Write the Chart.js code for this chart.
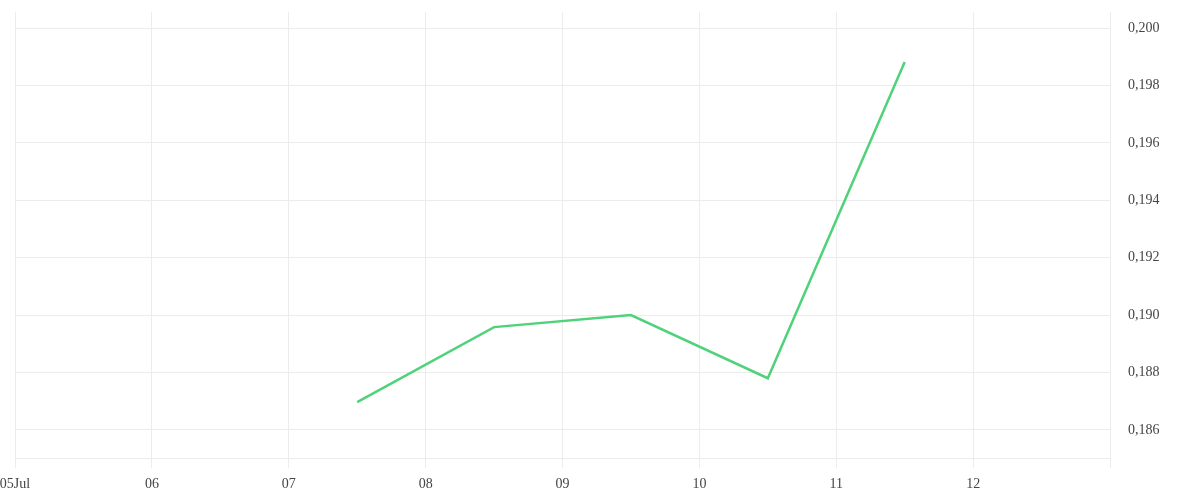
<!DOCTYPE html>
<html>
<head>
<meta charset="utf-8">
<script src="https://cdn.jsdelivr.net/npm/chart.js@4/dist/chart.umd.min.js"></script>
<style>
  html,body{margin:0;padding:0;background:#fff;}
  #wrap{width:1200px;height:500px;}
</style>
</head>
<body>
<div id="wrap"><canvas id="c"></canvas></div>
<script>
// day of July (12:00 = .5) and price values
const days = [7.5, 8.5, 9.5, 10.5, 11.5];
const values = [0.18697, 0.18958, 0.19000, 0.18780, 0.19882];
const yTicks = [0.186, 0.188, 0.190, 0.192, 0.194, 0.196, 0.198, 0.200];

const GRID = "#ececec";
const TXT = "#444";
const LINE = "#4fd27a";
const FONT = {family:"'Liberation Serif', 'DejaVu Serif', serif", size:14};

const pts = days.map((d,i)=>({x:d, y:values[i]}));

new Chart(document.getElementById("c"), {
  type: "line",
  data: {
    datasets: [{
      data: pts,
      borderColor: LINE,
      borderWidth: 2.5,
      pointRadius: 0,
      tension: 0,
      fill: false
    }]
  },
  options: {
    responsive: true,
    maintainAspectRatio: false,
    animation: false,
    layout: {padding: {left: 15, top: 12, right: 0, bottom: 0}},
    plugins: {legend: {display: false}, tooltip: {enabled: false}},
    scales: {
      x: {
        type: "linear",
        min: 5, max: 13,
        grid: {color: GRID, tickLength: 10, tickColor: GRID},
        border: {color: GRID},
        ticks: {
          stepSize: 1, color: TXT, font: FONT, padding: 8, maxRotation: 0,
          callback: (v) => v === 13 ? "" : (v === 5 ? "05Jul" : String(v).padStart(2, "0"))
        },
        afterFit: (s) => { s.height = 42; s.paddingLeft = 0; s.paddingRight = 0; }
      },
      y: {
        position: "right",
        min: 0.18502, max: 0.20056,
        grid: {color: GRID, drawTicks: false},
        border: {color: GRID},
        afterBuildTicks: (s) => { s.ticks = yTicks.map(v => ({value: v})); },
        ticks: {
          color: TXT, font: FONT, padding: 18,
          callback: (v) => v.toFixed(3).replace(".", ",")
        },
        afterFit: (s) => { s.width = 90; s.paddingTop = 0; s.paddingBottom = 0; }
      }
    }
  }
});
</script>
</body>
</html>
